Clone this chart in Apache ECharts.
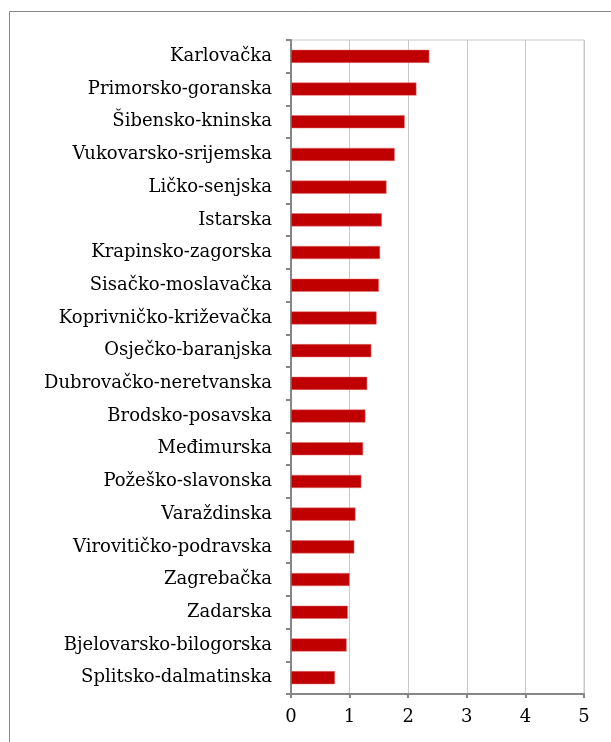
<!DOCTYPE html>
<html lang="hr">
<head>
    <meta charset="UTF-8">
    <title>Županije</title>
    <script src="https://cdn.jsdelivr.net/npm/echarts@6/dist/echarts.min.js"></script>
    <style>
        html, body { margin: 0; padding: 0; background: #fff; }
        #chart { width: 611px; height: 742px; }
    </style>
</head>
<body>
    <div id="chart"></div>
    <script>
        // županije, odozgo prema dolje kao na slici
        var counties = [
            'Karlovačka', 'Primorsko-goranska', 'Šibensko-kninska', 'Vukovarsko-srijemska',
            'Ličko-senjska', 'Istarska', 'Krapinsko-zagorska', 'Sisačko-moslavačka',
            'Koprivničko-križevačka', 'Osječko-baranjska', 'Dubrovačko-neretvanska',
            'Brodsko-posavska', 'Međimurska', 'Požeško-slavonska', 'Varaždinska',
            'Virovitičko-podravska', 'Zagrebačka', 'Zadarska', 'Bjelovarsko-bilogorska',
            'Splitsko-dalmatinska'
        ];
        var values = [
            2.36, 2.14, 1.94, 1.77, 1.63, 1.55, 1.52, 1.50, 1.46, 1.37,
            1.30, 1.27, 1.23, 1.20, 1.10, 1.08, 1.00, 0.97, 0.95, 0.75
        ];
        var xTicks = ['0', '1', '2', '3', '4', '5'];

        var myChart = echarts.init(document.getElementById('chart'));
        var font = 'DejaVu Serif';

        var option = {
            animation: false,
            backgroundColor: '#fff',
            graphic: [{
                // okvir grafikona
                type: 'rect',
                shape: { x: 9.5, y: 11.5, width: 700, height: 800 },
                style: { fill: 'none', stroke: '#888', lineWidth: 1 },
                silent: true
            }],
            grid: {
                left: 291,
                right: 27,
                top: 40,
                bottom: 48,
                show: true,
                borderColor: '#c8c8c8',
                borderWidth: 1
            },
            xAxis: {
                type: 'value',
                min: 0,
                max: 5,
                interval: 1,
                axisLine: { show: true, lineStyle: { color: '#868686', width: 2 } },
                axisTick: { show: true, length: 4, lineStyle: { color: '#868686', width: 2 } },
                splitLine: { show: true, lineStyle: { color: '#c8c8c8', width: 1 } },
                axisLabel: {
                    margin: 14,
                    fontFamily: font,
                    fontSize: 18,
                    color: '#000',
                    formatter: function (v) { return xTicks[Math.round(v)]; }
                }
            },
            yAxis: {
                type: 'category',
                inverse: true,
                data: counties,
                axisLine: { show: true, lineStyle: { color: '#868686', width: 2 } },
                axisTick: { show: true, length: 5, lineStyle: { color: '#868686', width: 2 } },
                axisLabel: {
                    margin: 19,
                    fontFamily: font,
                    fontSize: 18,
                    color: '#000'
                }
            },
            series: [{
                type: 'bar',
                data: values,
                barWidth: '40%',
                itemStyle: {
                    color: '#c00000',
                    borderColor: '#e07070',
                    borderWidth: 0.5
                }
            }]
        };

        myChart.setOption(option);
    </script>
</body>
</html>
